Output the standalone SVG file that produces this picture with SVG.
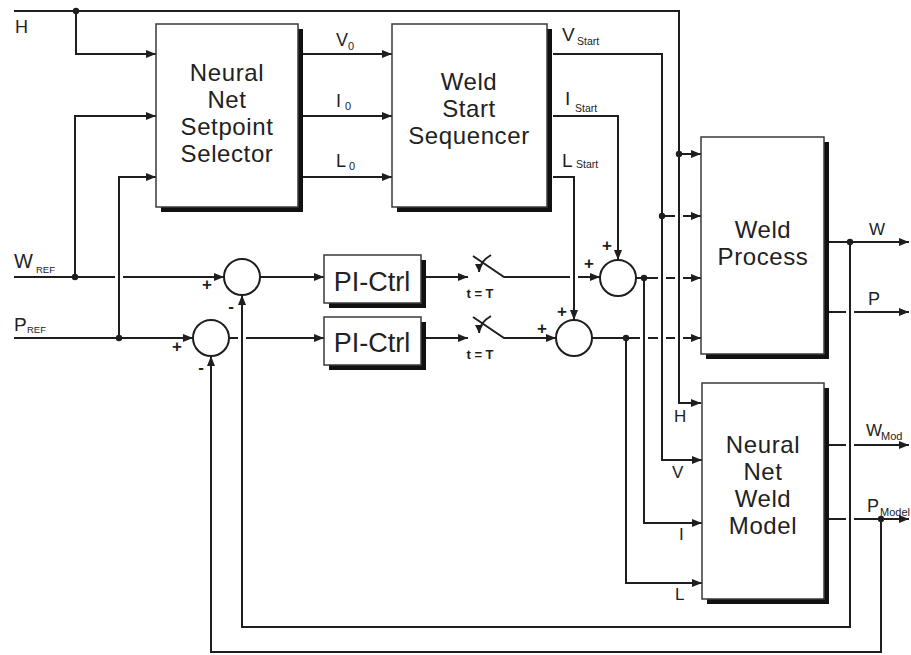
<svg xmlns="http://www.w3.org/2000/svg" width="911" height="655" viewBox="0 0 911 655">
<defs>
<marker id="ah" viewBox="0 0 10 8" refX="10" refY="4" markerWidth="10" markerHeight="8" markerUnits="userSpaceOnUse" orient="auto"><path d="M0,0 L10,4 L0,8 z" fill="#1e1e1e"/></marker>
<marker id="ahs" viewBox="0 0 8 8" refX="8" refY="4" markerWidth="8" markerHeight="8" markerUnits="userSpaceOnUse" orient="auto"><path d="M0,0 L8,4 L0,8 z" fill="#1e1e1e"/></marker>
</defs>
<style>
.ln{fill:none;stroke:#1e1e1e;stroke-width:2}
.ar{marker-end:url(#ah)}
.dot{fill:#1e1e1e}
.box{fill:#fff;stroke:#3a3a3a;stroke-width:1.5}
.sh{fill:#111}
.sum{fill:#fff;stroke:#1e1e1e;stroke-width:2}
.bt{font-family:"Liberation Sans",Arial,sans-serif;font-size:24px;letter-spacing:0.6px;fill:#222;text-anchor:middle}
.pi{font-family:"Liberation Sans",Arial,sans-serif;font-size:27px;fill:#222;text-anchor:middle}
.lb{font-family:"Liberation Sans",Arial,sans-serif;font-size:18px;fill:#222}
.sub{font-family:"Liberation Sans",Arial,sans-serif;font-size:10.5px;fill:#222}
.sg{font-family:"Liberation Sans",Arial,sans-serif;font-size:17px;font-weight:bold;fill:#1e1e1e;text-anchor:middle}
.tt{font-family:"Liberation Sans",Arial,sans-serif;font-size:13px;font-weight:bold;fill:#1e1e1e;text-anchor:middle}
</style>
<rect width="911" height="655" fill="#fff"/>

<g id="connectors">
<path class="ln" d="M14,11 H679 V403 H701" marker-end="url(#ah)"/>
<path class="ln ar" d="M76,11 V54 H156"/>
<path class="ln ar" d="M679,154 H701"/>
<path class="ln" d="M14,277 H115"/>
<path class="ln ar" d="M123,277 H224"/>
<path class="ln ar" d="M75,277 V116 H156"/>
<path class="ln ar" d="M14,338 H193"/>
<path class="ln ar" d="M119,338 V177 H156"/>
<path class="ln ar" d="M303,54 H392"/>
<path class="ln ar" d="M303,116 H392"/>
<path class="ln ar" d="M303,177 H392"/>
<path class="ln ar" d="M553,54 H662 V460 H702"/>
<path class="ln" d="M662,216 H675"/>
<path class="ln ar" d="M683,216 H701"/>
<path class="ln ar" d="M553,116 H618 V260"/>
<path class="ln ar" d="M553,177 H574 V320"/>
<path class="ln ar" d="M260,277 H324"/>
<path class="ln" d="M229,338 H238"/>
<path class="ln ar" d="M246,338 H324"/>
<path class="ln ar" d="M421,277 H468"/>
<path class="ln ar" d="M421,338 H468"/>
<path class="ln" d="M473,256 L504,277 H570"/>
<path class="ln ar" d="M578,277 H600"/>
<path class="ln ar" d="M473,317 L504,338 H556"/>
<path class="ln" d="M491,255 Q479,262 479,272" marker-end="url(#ahs)"/>
<path class="ln" d="M491,316 Q479,323 479,333" marker-end="url(#ahs)"/>
<path class="ln" d="M636,278 H658 M666,278 H675"/>
<path class="ln ar" d="M683,278 H701"/>
<path class="ln ar" d="M644,278 V523 H702"/>
<path class="ln" d="M592,338 H640 M648,338 H658 M666,338 H675"/>
<path class="ln ar" d="M683,338 H701"/>
<path class="ln ar" d="M626,338 V583 H702"/>
<path class="ln ar" d="M824,242 H909"/>
<path class="ln ar" d="M850,242 V627 H242 V295"/>
<path class="ln" d="M824,312 H846"/>
<path class="ln ar" d="M854,312 H909"/>
<path class="ln" d="M824,445 H846"/>
<path class="ln ar" d="M854,445 H909"/>
<path class="ln" d="M824,519 H846"/>
<path class="ln ar" d="M854,519 H909"/>
<path class="ln ar" d="M881,519 V652 H211 V356"/>
<circle class="dot" cx="76" cy="11" r="3.2"/>
<circle class="dot" cx="679" cy="154" r="3.2"/>
<circle class="dot" cx="75" cy="277" r="3.2"/>
<circle class="dot" cx="119" cy="338" r="3.2"/>
<circle class="dot" cx="662" cy="216" r="3.2"/>
<circle class="dot" cx="644" cy="278" r="3.2"/>
<circle class="dot" cx="626" cy="338" r="3.2"/>
<circle class="dot" cx="850" cy="242" r="3.2"/>
<circle class="dot" cx="881" cy="519" r="3.2"/>
</g>

<g id="labels">
<text class="lb" x="15" y="33">H</text>
<text class="lb" x="14" y="268" style="font-size:20px">W</text><text class="sub" x="36" y="273" style="font-size:9.5px">REF</text>
<text class="lb" x="14" y="331" style="font-size:19px">P</text><text class="sub" x="27" y="333" style="font-size:9.5px">REF</text>
<text class="lb" x="336" y="46">V</text><text class="sub" x="348" y="50" style="font-size:11px">0</text>
<text class="lb" x="336" y="107">I</text><text class="sub" x="345" y="110" style="font-size:11px">0</text>
<text class="lb" x="336" y="167">L</text><text class="sub" x="349" y="170" style="font-size:11px">0</text>
<text class="lb" x="562" y="41" style="font-size:19px">V</text><text class="sub" x="577" y="45">Start</text>
<text class="lb" x="565" y="105" style="font-size:19px">I</text><text class="sub" x="575" y="112">Start</text>
<text class="lb" x="562" y="167" style="font-size:19px">L</text><text class="sub" x="576" y="168">Start</text>
<text class="lb" x="869" y="235" style="font-size:17px">W</text>
<text class="lb" x="868" y="305">P</text>
<text class="lb" x="866" y="436" style="font-size:17px">W</text><text class="sub" x="881" y="440" style="font-size:11px">Mod</text>
<text class="lb" x="867" y="512">P</text><text class="sub" x="880" y="516" style="font-size:11px">Model</text>
<text class="lb" x="674" y="422" style="font-size:17px">H</text>
<text class="lb" x="672" y="478" style="font-size:17px">V</text>
<text class="lb" x="679" y="540" style="font-size:17px">I</text>
<text class="lb" x="675" y="600" style="font-size:17px">L</text>
<text class="sg" x="207" y="290">+</text>
<text class="sg" x="231" y="312">-</text>
<text class="sg" x="177" y="352">+</text>
<text class="sg" x="201" y="373">-</text>
<text class="sg" x="589" y="269">+</text>
<text class="sg" x="607" y="251">+</text>
<text class="sg" x="542" y="334">+</text>
<text class="sg" x="562" y="317">+</text>
<text class="tt" x="480" y="298">t = T</text>
<text class="tt" x="480" y="359">t = T</text>
</g>

<g id="sum1"><circle class="sum" cx="242" cy="277" r="18"/></g>
<g id="sum2"><circle class="sum" cx="211" cy="338" r="18"/></g>
<g id="sum3"><circle class="sum" cx="618" cy="278" r="18"/></g>
<g id="sum4"><circle class="sum" cx="574" cy="338" r="18"/></g>

<g id="setpoint-selector">
<rect class="sh" x="161" y="29" width="142" height="183"/>
<rect class="box" x="156" y="24" width="142" height="183"/>
<text class="bt" x="227" y="81">Neural</text>
<text class="bt" x="227" y="108">Net</text>
<text class="bt" x="227" y="135">Setpoint</text>
<text class="bt" x="227" y="162">Selector</text>
</g>

<g id="start-sequencer">
<rect class="sh" x="397" y="29" width="155" height="183"/>
<rect class="box" x="392" y="24" width="155" height="183"/>
<text class="bt" x="469" y="90">Weld</text>
<text class="bt" x="469" y="117">Start</text>
<text class="bt" x="469" y="144">Sequencer</text>
</g>

<g id="weld-process">
<rect class="sh" x="706" y="142" width="123" height="217"/>
<rect class="box" x="701" y="137" width="123" height="217"/>
<text class="bt" x="763" y="238">Weld</text>
<text class="bt" x="763" y="265">Process</text>
</g>

<g id="weld-model">
<rect class="sh" x="707" y="388" width="122" height="216"/>
<rect class="box" x="702" y="383" width="122" height="216"/>
<text class="bt" x="763" y="453">Neural</text>
<text class="bt" x="763" y="480">Net</text>
<text class="bt" x="763" y="507">Weld</text>
<text class="bt" x="763" y="534">Model</text>
</g>

<g id="pi-ctrl-1">
<rect class="sh" x="329" y="260" width="97" height="48"/>
<rect class="box" x="324" y="255" width="97" height="48"/>
<text class="pi" x="372" y="291">PI-Ctrl</text>
</g>

<g id="pi-ctrl-2">
<rect class="sh" x="329" y="322" width="97" height="48"/>
<rect class="box" x="324" y="317" width="97" height="48"/>
<text class="pi" x="372" y="352">PI-Ctrl</text>
</g>
</svg>
